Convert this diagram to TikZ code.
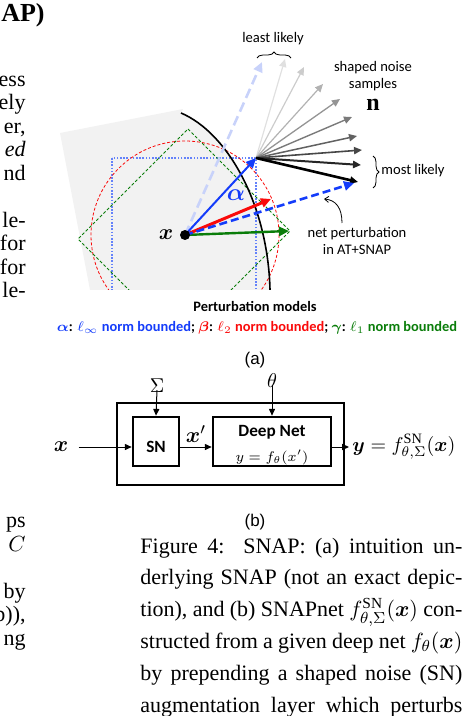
\documentclass[tikz,border=0pt]{standalone}
\usepackage{amsmath,amssymb}
\usepackage{fontspec}
\setmainfont{Liberation Serif}
\newfontfamily\calibri{Carlito}
\newfontfamily\arialfont{Liberation Sans}
\usetikzlibrary{arrows.meta,decorations.pathreplacing,positioning,calc}
\definecolor{snapblue}{RGB}{20,60,250}
\definecolor{snapred}{RGB}{250,10,10}
\definecolor{snapgreen}{RGB}{10,125,10}
\definecolor{snaplight}{RGB}{200,210,250}
\definecolor{snapgray}{RGB}{242,242,242}
\definecolor{dotblue}{RGB}{100,130,250}

\begin{document}
\begin{tikzpicture}[x=0.5pt, y=-0.5pt, every node/.style={inner sep=0pt}]
  \tikzset{
      lbl/.style={font=\fontsize{7.3}{8.6}\calibri, align=center},
      legend/.style={font=\fontsize{7.2}{9}\calibri\bfseries},
      pert/.style={-{Triangle[length=5pt,width=4.6pt]}},
      noise/.style={-{Triangle[length=4pt,width=3.6pt]}},
      block/.style={draw, line width=1.3pt, minimum height=24.5pt},
      flow/.style={-{Triangle[length=3.4pt,width=3pt]}, line width=0.5pt},
      body/.style={font=\fontsize{11}{13}\selectfont, anchor=base east},
      capline/.style={font=\fontsize{11}{13}\selectfont, anchor=base west}
  }
  \useasboundingbox (0,0) rectangle (464,716);

  % page text of the left column
  \node[anchor=base east, font=\fontsize{13}{15}\bfseries] (head) at (45,22) {AP)};
  \foreach \n/\yy/\txt in {1/86.5/ess, 2/110/ely, 3/133.5/{er,}, 4/157/\textit{ed}, 5/180.5/nd,
      6/227.5/le-, 7/251/for, 8/274.5/for, 9/298/le-, 10/527.5/ps, 11/551/$C$,
      12/598/by, 13/621.5/{b)),}, 14/645/ng}
    \node[body] (col\n) at (26,\yy) {\txt};

  % (a) perturbation models
  \coordinate (X) at (185,235);
  \coordinate (tip) at (256,158);
  \begin{scope}
    \clip (0,0) rectangle (464,290);
    \fill[snapgray] (60,133) -- (183,109) -- (181,113) .. controls (228,133) and (268,205) .. (270,290) -- (90,290) -- cycle;
    \draw[dotblue, line width=0.7pt, dash pattern=on 0.8pt off 0.8pt] (112,158) rectangle (256,302);
    \draw[snapred, line width=0.4pt, dash pattern=on 1.5pt off 1pt] (X) circle[radius=94];
    \draw[snapgreen, line width=0.4pt, dash pattern=on 1.5pt off 1pt] (188,129) -- (290,231) -- (180,341) -- (78,239) -- cycle;
    \draw[line width=0.8pt] (181,113) .. controls (228,133) and (268,205) .. (270,290);
  \end{scope}

  % shaped noise samples
  \foreach \tx/\ty/\shade/\lw [count=\k] in {285/59/12/0.6, 304/67/20/0.6, 323/84/30/0.6, 340/99/42/0.65,
      352/117/52/0.7, 357/136/62/0.75, 362/150/72/0.8, 361/165/85/1.0, 358/182/100/1.3} {
    \coordinate (n\k) at (\tx,\ty);
    \draw[noise, black!\shade, line width=\lw pt] (tip) -- (n\k);
  }

  \coordinate (light) at (262,62);
  \coordinate (redtip) at (271,199);
  \coordinate (greentip) at (289,231);
  \coordinate (net) at (354,183);
  \draw[pert, snaplight, line width=1.3pt, dash pattern=on 5pt off 2.5pt] (X) -- (light);
  \draw[pert, snapgreen, line width=1.2pt] (X) -- (greentip);
  \draw[pert, snapred, line width=1.5pt] (X) -- (redtip);
  \draw[pert, snapblue, line width=1pt] (X) -- (tip);
  \draw[pert, snapblue, line width=1.3pt, dash pattern=on 4pt off 2pt] (X) -- (net);
  \fill (X) circle[radius=5];

  \node[font=\fontsize{11}{11}\selectfont] (xlab) at (166,235) {$\boldsymbol{x}$};
  \node[font=\fontsize{12.5}{12.5}\selectfont, text=snapblue] (alab) at (236,195) {$\boldsymbol{\alpha}$};

  \node[lbl] (least) at (273,39) {least likely};
  \draw[decorate, decoration={brace, amplitude=3pt}, line width=0.4pt] (257,58) -- (291,58);
  \node[lbl] (shaped) at (373,76) {shaped noise\\samples};
  \node[font=\fontsize{12}{12}\bfseries] (nvec) at (373,105) {n};
  \draw[decorate, decoration={brace, amplitude=3pt}, line width=0.4pt] (373,156) -- (373,188);
  \node[lbl, anchor=west] (most) at (381,171) {most likely};
  \node[lbl] (netlab) at (357,241) {net perturbation\\in AT+SNAP};
  \draw[-{Straight Barb[length=2pt,width=3pt]}, line width=0.4pt] (342,223) .. controls (342,208) and (336,200) .. (324,199);

  \node[legend] (models) at (255,306) {Perturbation models};
  \node[legend] (norms) at (257,328) {\color{snapblue}$\boldsymbol{\alpha}$\color{black}: \color{snapblue}$\ell_\infty$ norm bounded\color{black}; \color{snapred}$\boldsymbol{\beta}$\color{black}: \color{snapred}$\ell_2$ norm bounded\color{black}; \color{snapgreen}$\boldsymbol{\gamma}$\color{black}: \color{snapgreen}$\ell_1$ norm bounded};
  \node[font=\fontsize{8.5}{10}\arialfont] (suba) at (255,360) {(a)};

  % (b) SNAPnet
  \draw[line width=0.6pt] (117,403) rectangle (344,485);
  \node[block, minimum width=23pt] (sn) at (156,441.5) {};
  \node[block, minimum width=59pt] (deep) at (272,441.5) {};
  \node[font=\fontsize{8.6}{10}\calibri\bfseries] (sntext) at (156,447) {SN};
  \node[font=\fontsize{8.6}{10}\calibri\bfseries] (deeptitle) at (272,432) {Deep Net};
  \node[font=\fontsize{7.5}{8}\selectfont] (deepeq) at (272,457) {$y=f_\theta(x')$};
  \node[font=\fontsize{10}{10}\selectfont] (sigma) at (157,386) {$\Sigma$};
  \node[font=\fontsize{10}{10}\selectfont] (theta) at (272,381) {$\theta$};
  \node[font=\fontsize{11}{11}\selectfont] (xin) at (61,447) {$\boldsymbol{x}$};
  \node[font=\fontsize{11}{11}\selectfont] (xprime) at (196,434) {$\boldsymbol{x}'$};
  \node[font=\fontsize{10.2}{10}\selectfont, anchor=west] (yout) at (352,447) {$\boldsymbol{y} = f^{\mathrm{SN}}_{\theta,\Sigma}(\boldsymbol{x})$};
  \draw[flow] (sigma.south) ++(0,-3) -- (sn.north);
  \draw[flow] (theta.south) ++(0,-3) -- (deep.north);
  \draw[flow] ($(xin.east)+(10,0)$) -- (sn.west |- xin);
  \draw[flow] (sn.east |- xin) -- (deep.west |- xin);
  \draw[flow] (deep.east |- xin) -- ($(yout.west)+(-3,0)$);
  \node[font=\fontsize{8.5}{10}\arialfont] (subb) at (255,522) {(b)};

  % caption
  \foreach \n/\yy/\txt in {1/553/{Figure 4:\ \ SNAP: (a) intuition un-},
      2/584.8/{derlying SNAP (not an exact depic-},
      3/616.6/{tion), and (b) SNAPnet $f^{\mathrm{SN}}_{\theta,\Sigma}(\boldsymbol{x})$ con-},
      4/648.4/{structed from a given deep net $f_\theta(\boldsymbol{x})$},
      5/680.2/{by prepending a shaped noise (SN)},
      6/712/{augmentation layer which perturbs}}
    \node[capline] (cap\n) at (140,\yy) {\makebox[161pt][s]{\txt}};
\end{tikzpicture}
\end{document}
